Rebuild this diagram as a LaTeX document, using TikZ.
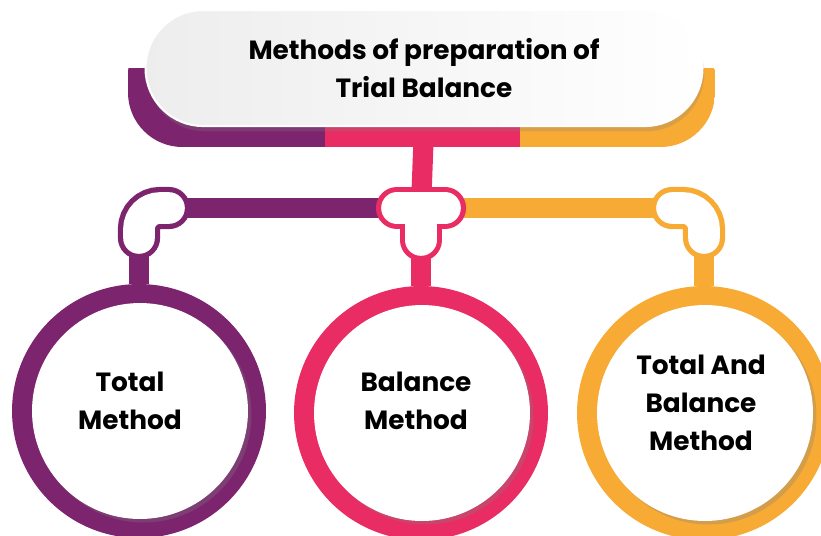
\documentclass[tikz,border=0pt]{standalone}
\usepackage{fontspec}
\setmainfont{Poppins}
\usetikzlibrary{shadows}
\pgfdeclarelayer{background}
\pgfsetlayers{background,main}
\definecolor{plum}{RGB}{125,36,110}
\definecolor{rose}{RGB}{233,44,100}
\definecolor{amber}{RGB}{247,170,52}
\tikzset{
  pill/.style={rounded corners=1.15cm, minimum width=11.14cm, minimum height=2.32cm,
    left color=gray!14, right color=white, draw=white, line width=1.2pt,
    drop shadow={opacity=0.25, shadow xshift=1pt, shadow yshift=-3pt},
    font=\bfseries\fontsize{15}{21.5}\selectfont, align=center},
  ring/.style={circle, fill=#1, minimum size=5.08cm, inner sep=0pt},
  disc/.style={circle, fill=white, minimum size=4.32cm, inner sep=0pt,
    drop shadow={opacity=0.3, shadow xshift=2pt, shadow yshift=-2pt}},
  methodtext/.style={font=\bfseries\fontsize{15}{21.5}\selectfont, align=center},
  bar/.style={draw=#1, line width=11.5pt},
  elbow/.style={draw=#1, line width=24pt, line cap=round, rounded corners=12pt},
  elbowfill/.style={draw=white, line width=18pt, line cap=round, rounded corners=12pt},
}
\begin{document}
\begin{tikzpicture}[x=0.02cm, y=-0.02cm]
  \useasboundingbox (0,0) rectangle (821,535);
  \clip (0,0) rectangle (821,535);
  % title and the three methods
  \node[pill] (title) at (424,68) {Methods of preparation of\\Trial Balance};
  \node[ring=plum] (totring) at (139,411) {};
  \node[disc] (tot) at (140,411) {};
  \node[methodtext] at (130,401) {Total\\Method};
  \node[ring=rose] (balring) at (421,413) {};
  \node[disc] (bal) at (422,413) {};
  \node[methodtext] at (416,401) {Balance\\Method};
  \node[ring=amber] (tabring) at (704,413) {};
  \node[disc] (tab) at (705,413) {};
  \node[methodtext] at (701,403) {Total And\\Balance\\Method};
  \coordinate (lbend) at (139,208);
  \coordinate (mid) at (421,208);
  \coordinate (rbend) at (704,208);
  \begin{pgfonlayer}{background}
    % band under the title
    \begin{scope}
      \clip[rounded corners=31pt] (128,20) rectangle (715,147);
      \fill[plum] (128,68) rectangle (326,147);
      \fill[rose] (325,68) rectangle (521,147);
      \fill[amber] (520,68) rectangle (715,147);
    \end{scope}
    \draw[bar=rose] (title.south) -- (mid);
    \draw[bar=plum] (lbend) -- (mid);
    \draw[bar=amber] (mid) -- (rbend);
    \draw[bar=plum] (lbend) -- (lbend |- totring.north);
    \draw[bar=rose] (mid) -- (mid |- balring.north);
    \draw[bar=amber] (rbend) -- (rbend |- tabring.north);
    % joints
    \draw[elbow=plum] (lbend) ++(0,30) -- (lbend) -- ++(30,0);
    \draw[elbowfill] (lbend) ++(0,30) -- (lbend) -- ++(30,0);
    \draw[elbow=rose] (mid) ++(-24,0) -- ++(48,0) (mid) -- ++(0,32);
    \draw[elbowfill] (mid) ++(-24,0) -- ++(48,0) (mid) -- ++(0,32);
    \draw[elbow=amber] (rbend) ++(-32,0) -- (rbend) -- ++(0,30);
    \draw[elbowfill] (rbend) ++(-32,0) -- (rbend) -- ++(0,30);
  \end{pgfonlayer}
\end{tikzpicture}
\end{document}
